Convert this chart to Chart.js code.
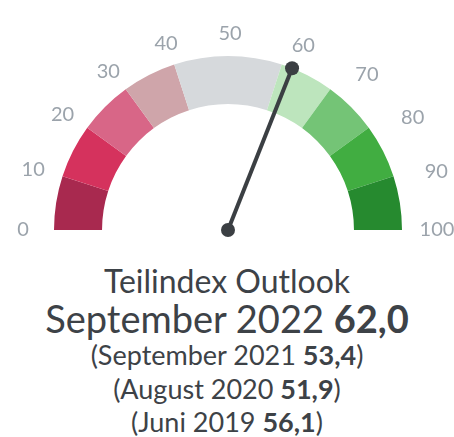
<!DOCTYPE html>
<html lang="de">
<head>
  <meta charset="UTF-8" />
  <title>Teilindex Outlook</title>
  <script src="https://cdn.jsdelivr.net/npm/chart.js"></script>
  <style>
    body {
      margin: 0;
      width: 454px;
      height: 437px;
      overflow: hidden;
      background: #fff;
      font-family: 'Lato', sans-serif;
      color: #3d4247;
    }
    #gauge {
      position: absolute;
      left: 0;
      top: 0;
    }
    .line {
      position: absolute;
      left: 0;
      width: 454px;
      text-align: center;
      white-space: nowrap;
      line-height: 1;
    }
    .line b { font-weight: 700; }
  </style>
</head>
<body>
  <canvas id="gauge" width="454" height="250"></canvas>
  <div class="line" id="l1" style="top:265px;font-size:32px;"></div>
  <div class="line" id="l2" style="top:299px;font-size:38px;"></div>
  <div class="line" id="l3" style="top:341px;font-size:27px;"></div>
  <div class="line" id="l4" style="top:375px;font-size:27px;"></div>
  <div class="line" id="l5" style="top:408px;font-size:27px;"></div>

  <script>
    // Skala und Bereiche
    const tickLabels = [0, 10, 20, 30, 40, 50, 60, 70, 80, 90, 100];
    const bandSizes = [10, 10, 10, 10, 20, 10, 10, 10, 10];
    const bandColors = ['#a8294f', '#d5325d', '#d86687', '#cfa5aa', '#d6d9dc',
                        '#bde5bd', '#74c476', '#41ad41', '#268a2f'];

    // aktueller Wert und Vergleichswerte
    const title = 'Teilindex Outlook';
    const current = { label: 'September 2022', value: 62.0 };
    const history = [
      { label: 'September 2021', value: 53.4 },
      { label: 'August 2020', value: 51.9 },
      { label: 'Juni 2019', value: 56.1 }
    ];

    const fmt = v => v.toFixed(1).replace('.', ',');

    document.getElementById('l1').textContent = title;
    document.getElementById('l2').innerHTML = `${current.label} <b>${fmt(current.value)}</b>`;
    history.forEach((h, i) => {
      document.getElementById('l' + (i + 3)).innerHTML = `(${h.label} <b>${fmt(h.value)}</b>)`;
    });

    // Nadel und Beschriftung zeichnen
    const needlePlugin = {
      id: 'needle',
      afterDraw(chart) {
        const arc = chart.getDatasetMeta(0).data[0];
        const cx = arc.x, cy = arc.y, r = arc.outerRadius;
        const ctx = chart.ctx;
        const ang = v => Math.PI + v / 100 * Math.PI;

        ctx.save();
        ctx.font = '20px Lato';
        ctx.fillStyle = '#9ba3ab';
        ctx.textAlign = 'center';
        ctx.textBaseline = 'middle';
        tickLabels.forEach(t => {
          const a = ang(t);
          // rechte Seite etwas weiter nach aussen, wie im Original
          const push = t > 50 ? 16 * Math.abs(Math.sin(2 * a)) : 0;
          ctx.fillText(String(t),
            cx + 2 + Math.cos(a) * (r + 33) + push,
            cy + Math.sin(a) * (r + 22) + push * 0.2);
        });

        const a = ang(current.value);
        const tx = cx + Math.cos(a) * r, ty = cy + Math.sin(a) * r;
        ctx.strokeStyle = '#3b3f43';
        ctx.fillStyle = '#3b3f43';
        ctx.lineWidth = 4;
        ctx.beginPath();
        ctx.moveTo(cx, cy);
        ctx.lineTo(tx, ty);
        ctx.stroke();
        [[cx, cy], [tx, ty]].forEach(([x, y]) => {
          ctx.beginPath();
          ctx.arc(x, y, 7, 0, Math.PI * 2);
          ctx.fill();
        });
        ctx.restore();
      }
    };

    new Chart(document.getElementById('gauge'), {
      type: 'doughnut',
      data: {
        labels: bandSizes.map((_, i) => i),
        datasets: [{
          data: bandSizes,
          backgroundColor: bandColors,
          borderWidth: 0
        }]
      },
      options: {
        responsive: false,
        animation: false,
        rotation: -90,
        circumference: 180,
        cutout: '72.4%',
        layout: { padding: { left: 54, right: 52, top: 56, bottom: 20 } },
        plugins: {
          legend: { display: false },
          tooltip: { enabled: false }
        }
      },
      plugins: [needlePlugin]
    });
  </script>
</body>
</html>
